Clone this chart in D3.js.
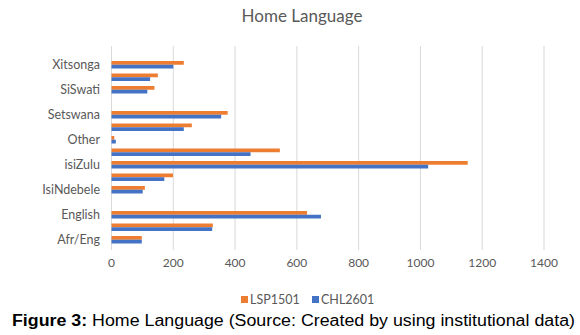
<!DOCTYPE html>
<html>
<head>
<meta charset="utf-8">
<script src="https://cdn.jsdelivr.net/npm/d3@7"></script>
<style>
  body { margin: 0; background: #fff; }
  svg { display: block; }
</style>
</head>
<body>
<div id="chart"></div>
<script>
// categories top to bottom; only every other label is shown (like Excel)
const categories = ["Xitsonga", "Tshivenda", "SiSwati", "Shona", "Setswana", "Sesotho",
  "Other", "Sepedi", "isiZulu", "IsiXhosa", "IsiNdebele", "French", "English",
  "Afrikaans", "Afr/Eng"];
const shownLabels = ["Xitsonga", "SiSwati", "Setswana", "Other", "isiZulu",
  "IsiNdebele", "English", "Afr/Eng"];
const series = ["LSP1501", "CHL2601"];
const lsp1501 = [234, 150, 139, 0, 376, 260, 9, 545, 1153, 199, 108, 0, 633, 328, 98];
const chl2601 = [200, 125, 116, 0, 355, 234, 14, 450, 1025, 171, 101, 0, 678, 326, 98];
const xTicks = [0, 200, 400, 600, 800, 1000, 1200, 1400];
const colors = ["#ED7D31", "#4472C4"];

const W = 580, H = 335;
const plot = { left: 111.5, right: 544, top: 46, bottom: 250 };

const svg = d3.select("#chart").append("svg")
  .attr("width", W).attr("height", H);

const x = d3.scaleLinear().domain([0, 1400]).range([plot.left, plot.right]);
const y = d3.scaleBand().domain(categories).range([58.5, 246]).paddingInner(0.4).paddingOuter(0.2);
const ySub = d3.scaleBand().domain(series).range([0, y.bandwidth()]);
const color = d3.scaleOrdinal().domain(series).range(colors);

// gridlines
svg.append("g").selectAll("line")
  .data(xTicks)
  .join("line")
  .attr("x1", d => x(d)).attr("x2", d => x(d))
  .attr("y1", plot.top).attr("y2", plot.bottom)
  .attr("stroke", "#d9d9d9").attr("stroke-width", 1);

// x tick labels
svg.append("g").selectAll("text")
  .data(xTicks)
  .join("text")
  .attr("x", d => x(d)).attr("y", 267)
  .attr("text-anchor", "middle")
  .attr("font-family", "Lato, 'Open Sans', sans-serif")
  .attr("font-size", 12)
  .attr("fill", "#595959")
  .text(d => d);

// bars
const rows = categories.map((c, i) => ({ cat: c, vals: [lsp1501[i], chl2601[i]] }));
svg.append("g").selectAll("g")
  .data(rows)
  .join("g")
  .attr("transform", d => `translate(0,${y(d.cat)})`)
  .selectAll("rect")
  .data(d => d.vals.map((v, j) => ({ s: series[j], v })))
  .join("rect")
  .attr("x", x(0))
  .attr("y", d => ySub(d.s))
  .attr("width", d => x(d.v) - x(0))
  .attr("height", ySub.bandwidth())
  .attr("fill", d => color(d.s));

// category labels
svg.append("g").selectAll("text")
  .data(shownLabels)
  .join("text")
  .attr("x", 100)
  .attr("y", d => y(d) + y.bandwidth() / 2)
  .attr("dy", "0.35em")
  .attr("text-anchor", "end")
  .attr("font-family", "Lato, 'Open Sans', sans-serif")
  .attr("font-size", 12.5)
  .attr("fill", "#595959")
  .text(d => d);

// title
svg.append("text")
  .attr("x", 302).attr("y", 22)
  .attr("text-anchor", "middle")
  .attr("font-family", "Lato, 'Open Sans', sans-serif")
  .attr("font-size", 17)
  .attr("fill", "#595959")
  .text("Home Language");

// legend
const legend = svg.append("g").selectAll("g")
  .data(series)
  .join("g")
  .attr("transform", (d, i) => `translate(${[241, 312][i]},300)`);
legend.append("rect")
  .attr("x", 0).attr("y", -4).attr("width", 7).attr("height", 7)
  .attr("fill", d => color(d));
legend.append("text")
  .attr("x", 9).attr("y", 0).attr("dy", "0.35em")
  .attr("font-family", "Lato, 'Open Sans', sans-serif")
  .attr("font-size", 12.5)
  .attr("fill", "#595959")
  .text(d => d);

// caption
const cap = svg.append("text")
  .attr("x", 12).attr("y", 326)
  .attr("font-family", "'Liberation Sans', Arial, sans-serif")
  .attr("font-size", 16)
  .attr("textLength", 563)
  .attr("lengthAdjust", "spacingAndGlyphs")
  .attr("fill", "#000");
cap.append("tspan").attr("font-weight", "bold").text("Figure 3:");
cap.append("tspan").text(" Home Language (Source: Created by using institutional data)");
</script>
</body>
</html>
